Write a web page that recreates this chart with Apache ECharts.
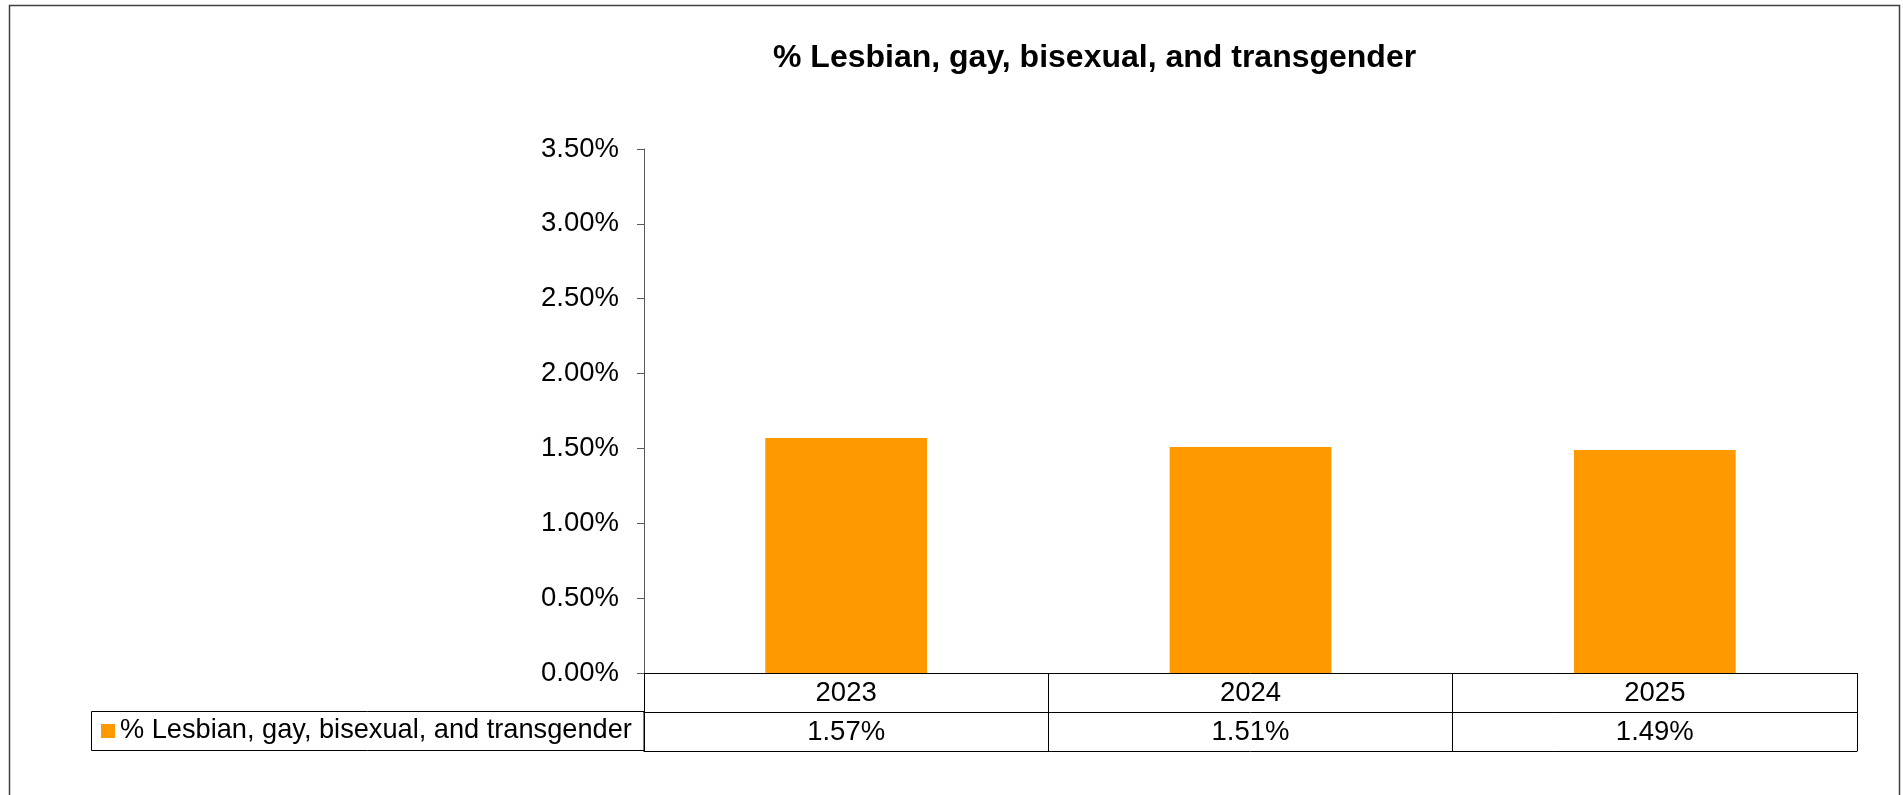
<!DOCTYPE html>
<html>
<head>
<meta charset="utf-8">
<style>
  html, body { margin: 0; padding: 0; background: #fff; }
  #chart { width: 1903px; height: 795px; }
</style>
<script src="https://cdn.jsdelivr.net/npm/echarts@6/dist/echarts.min.js"></script>
</head>
<body>
<div id="chart"></div>
<script>
// data
const years = ['2023', '2024', '2025'];
const lgbtPct = [1.57, 1.51, 1.49];
const seriesName = '% Lesbian, gay, bisexual, and transgender';

const font = 'Liberation Sans, Arial, sans-serif';
const chart = echarts.init(document.getElementById('chart'));

chart.setOption({
    animation: false,
    title: {
        text: seriesName,
        left: 773,
        top: 42,
        padding: 0,
        textStyle: { fontFamily: font, fontSize: 32, fontWeight: 'bold', color: '#000' }
    },
    legend: {
        data: [seriesName],
        left: 101,
        top: 716,
        padding: 0,
        itemWidth: 14,
        itemHeight: 14,
        icon: 'rect',
        textStyle: { fontFamily: font, fontSize: 27.2, color: '#000', lineHeight: 30, padding: 0 }
    },
    grid: { left: 644, right: 46, top: 149, bottom: 122, containLabel: false },
    xAxis: [{
        type: 'category',
        data: years,
        position: 'bottom',
        axisLine: { lineStyle: { color: '#000', width: 1 } },
        axisTick: { show: true, length: 78, lineStyle: { color: '#000' } },
        axisLabel: { fontFamily: font, fontSize: 27.5, color: '#000', margin: 6 }
    }, {
        type: 'category',
        data: years,
        position: 'bottom',
        offset: 39,
        axisLine: { lineStyle: { color: '#000', width: 1 } },
        axisTick: { show: false },
        axisLabel: {
            fontFamily: font, fontSize: 27.5, color: '#000', margin: 6,
            formatter: (v, i) => lgbtPct[i].toFixed(2) + '%'
        }
    }, {
        type: 'category',
        data: years,
        position: 'bottom',
        offset: 78,
        axisLine: { lineStyle: { color: '#000', width: 1 } },
        axisTick: { show: false },
        axisLabel: { show: false }
    }],
    yAxis: {
        type: 'value',
        min: 0,
        max: 3.5,
        interval: 0.5,
        axisLine: { show: true, lineStyle: { color: '#5a5a5a' } },
        axisTick: { show: true, length: 7, lineStyle: { color: '#5a5a5a' } },
        splitLine: { show: false },
        axisLabel: {
            fontFamily: font, fontSize: 27.5, color: '#000', margin: 25,
            formatter: v => v.toFixed(2) + '%'
        }
    },
    series: [{
        name: seriesName,
        type: 'bar',
        data: lgbtPct,
        barWidth: '40%',
        itemStyle: { color: '#FF9900' }
    }],
    graphic: [{
        // outer chart border
        type: 'rect',
        shape: { x: 9.5, y: 5.5, width: 1890, height: 820 },
        style: { fill: 'none', stroke: '#404040', lineWidth: 1.5 },
        silent: true
    }, {
        // legend cell of the data table
        type: 'rect',
        shape: { x: 91.5, y: 711.5, width: 552.5, height: 39 },
        style: { fill: 'none', stroke: '#000', lineWidth: 1 },
        silent: true
    }]
});
</script>
</body>
</html>
